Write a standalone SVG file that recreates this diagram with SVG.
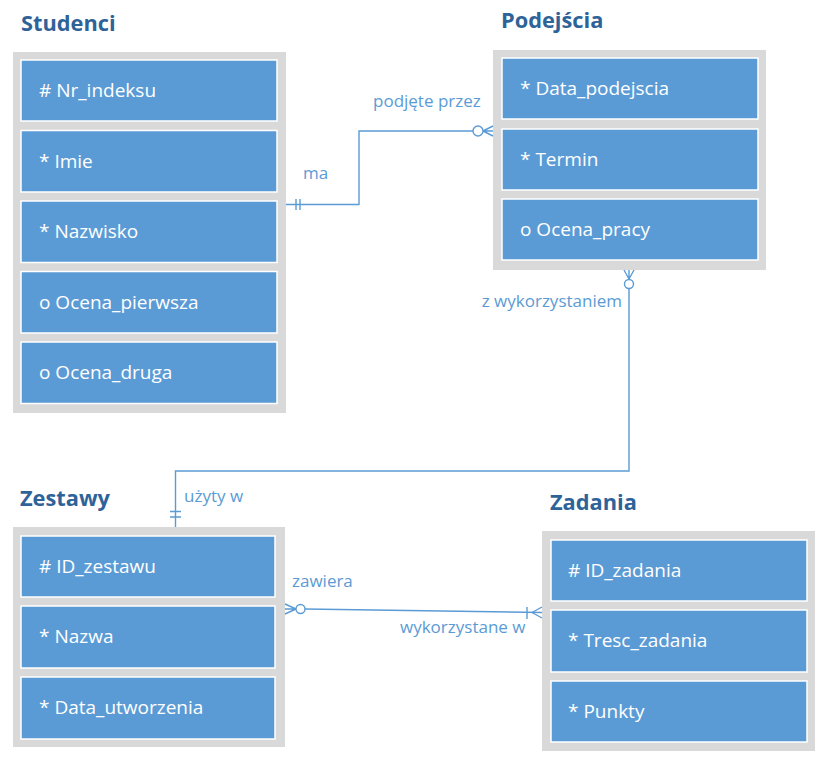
<svg xmlns="http://www.w3.org/2000/svg" width="826" height="758" viewBox="0 0 826 758">
<style>
.frame{fill:#d9d9d9}
.row{fill:#5b9bd5;stroke:#ffffff;stroke-width:1.5}
.attr{font-family:"Open Sans","Noto Sans",sans-serif;font-size:19px;fill:#ffffff}
.title{font-family:"Open Sans","Noto Sans",sans-serif;font-size:21.8px;font-weight:bold;fill:#2e6399}
.lbl{font-family:"Open Sans","Noto Sans",sans-serif;font-size:17px;fill:#5b9bd5}
.ln{fill:none;stroke:#5b9bd5;stroke-width:1.4}
.ci{fill:#ffffff;stroke:#5b9bd5;stroke-width:1.4}
</style>
<rect width="826" height="758" fill="#ffffff"/>
<g id="studenci">
<text class="title" x="21" y="31">Studenci</text>
<rect class="frame" x="13" y="52" width="273" height="361"/>
<rect class="row" x="21" y="60" width="256" height="61"/>
<rect class="row" x="21" y="130.5" width="256" height="61.5"/>
<rect class="row" x="21" y="201" width="256" height="61.5"/>
<rect class="row" x="21" y="271.5" width="256" height="61.5"/>
<rect class="row" x="21" y="342" width="256" height="61.5"/>
<text class="attr" x="39" y="97">#&#160;Nr_indeksu</text>
<text class="attr" x="39" y="167.5">* Imie</text>
<text class="attr" x="39" y="238">* Nazwisko</text>
<text class="attr" x="39" y="308.5">o Ocena_pierwsza</text>
<text class="attr" x="39" y="379">o Ocena_druga</text>
</g>
<g id="podejscia">
<text class="title" x="501" y="28">Podejścia</text>
<rect class="frame" x="493" y="50" width="273" height="220"/>
<rect class="row" x="502" y="58" width="256" height="61"/>
<rect class="row" x="502" y="129" width="256" height="61"/>
<rect class="row" x="502" y="199" width="256" height="61"/>
<text class="attr" x="520" y="95">* Data_podejscia</text>
<text class="attr" x="520" y="166">* Termin</text>
<text class="attr" x="520" y="236">o Ocena_pracy</text>
</g>
<g id="zestawy">
<text class="title" x="20" y="506">Zestawy</text>
<rect class="frame" x="13" y="527" width="272" height="220"/>
<rect class="row" x="21" y="536" width="254" height="61"/>
<rect class="row" x="21" y="606" width="254" height="62"/>
<rect class="row" x="21" y="677" width="254" height="62"/>
<text class="attr" x="39" y="573">#&#160;ID_zestawu</text>
<text class="attr" x="39" y="643">* Nazwa</text>
<text class="attr" x="39" y="714">* Data_utworzenia</text>
</g>
<g id="zadania">
<text class="title" x="550" y="510">Zadania</text>
<rect class="frame" x="542" y="531" width="273" height="220"/>
<rect class="row" x="551" y="540" width="256" height="61"/>
<rect class="row" x="551" y="610" width="256" height="62"/>
<rect class="row" x="551" y="681" width="256" height="61"/>
<text class="attr" x="568" y="577">#&#160;ID_zadania</text>
<text class="attr" x="568" y="647">* Tresc_zadania</text>
<text class="attr" x="568" y="718">* Punkty</text>
</g>
<g id="connectors">
<polyline class="ln" points="286,204.5 359,204.5 359,131 473,131"/>
<path class="ln" d="M296,199 V210 M300,199 V210"/>
<path class="ln" d="M483,131 H493 M483,131 L493,126 M483,131 L493,136"/>
<circle class="ci" cx="478" cy="131" r="5"/>
<text class="lbl" x="303" y="179">ma</text>
<text class="lbl" x="373" y="107">podjęte przez</text>

<polyline class="ln" points="629,289 629,471 175.5,471 175.5,527"/>
<path class="ln" d="M629,279 V270 M629,279 L624,270 M629,279 L634,270"/>
<circle class="ci" cx="629" cy="284" r="4.5"/>
<path class="ln" d="M170,511.5 H181 M170,517 H181"/>
<text class="lbl" x="622" y="307" text-anchor="end">z wykorzystaniem</text>
<text class="lbl" x="184" y="502">użyty w</text>

<line class="ln" x1="305" y1="609" x2="542" y2="612.5"/>
<path class="ln" d="M296,609 H285 M296,609 L285,604 M296,609 L285,614"/>
<circle class="ci" cx="300.5" cy="609" r="4.5"/>
<path class="ln" d="M527,607 V619 M532,612.5 L542,607 M532,612.5 L542,618"/>
<text class="lbl" x="292" y="587">zawiera</text>
<text class="lbl" x="400" y="633">wykorzystane w</text>
</g>
</svg>
